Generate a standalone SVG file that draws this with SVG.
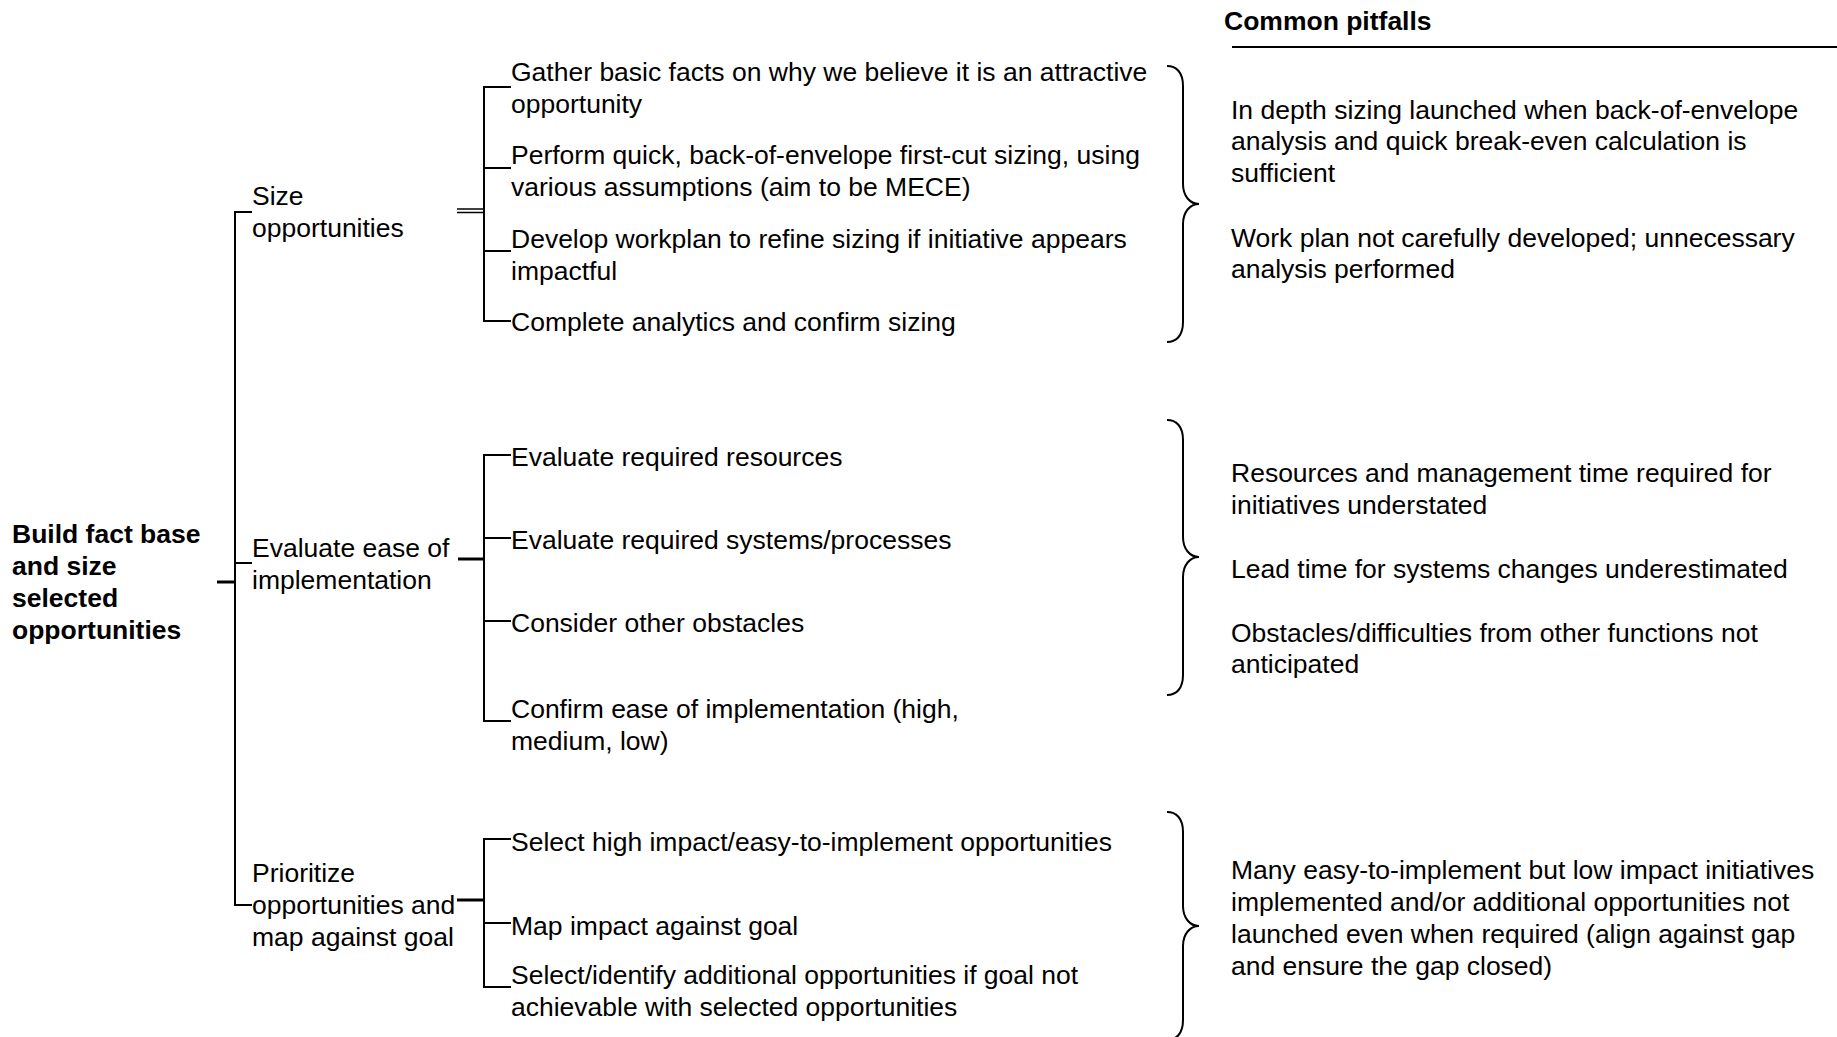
<svg xmlns="http://www.w3.org/2000/svg" width="1837" height="1037" viewBox="0 0 1837 1037">
<style>
text{font-family:"Liberation Sans",Arial,sans-serif;font-size:26.5px;fill:#000}
.b{font-weight:bold}
.ln{stroke:#000;stroke-width:2;fill:none}
.tk{stroke:#000;stroke-width:3;fill:none}
.br{stroke:#000;stroke-width:2;fill:none}
</style>
<rect width="1837" height="1037" fill="#fff"/>
<g id="connectors">
<path class="ln" d="M252 212H235V905H252M235 563H252"/>
<path class="tk" d="M217 582H235"/>
<path class="ln" d="M511 87H484V321H511M484 168H511M484 251H511"/>
<path class="ln" style="stroke-width:1.6" d="M457 209H484M457 212.5H484"/>
<path class="ln" d="M511 455H484V721H511M484 538H511M484 621H511"/>
<path class="tk" d="M458 559H484"/>
<path class="ln" d="M511 839H484V987H511M484 923H511"/>
<path class="tk" d="M457 900H484"/>
</g>
<g id="braces">
<path class="br" d="M1167 66C1176 66 1183 72 1183 86L1183 184C1183 196 1190 204 1199 204C1190 204 1183 212 1183 224L1183 322C1183 336 1176 342 1167 342"/>
<path class="br" d="M1167 420C1176 420 1183 426 1183 440L1183 537C1183 549 1190 557 1199 557C1190 557 1183 565 1183 577L1183 675C1183 689 1176 695 1167 695"/>
<path class="br" d="M1167 812C1176 812 1183 818 1183 832L1183 906C1183 918 1190 926 1199 926C1190 926 1183 934 1183 946L1183 1020C1183 1034 1176 1040 1167 1040"/>
</g>
<g id="root">
<text class="b" x="12" y="543">Build fact base</text>
<text class="b" x="12" y="575">and size</text>
<text class="b" x="12" y="607">selected</text>
<text class="b" x="12" y="639">opportunities</text>
</g>
<g id="size">
<text x="252" y="205">Size</text>
<text x="252" y="237">opportunities</text>
</g>
<g id="ease">
<text x="252" y="557">Evaluate ease of</text>
<text x="252" y="589">implementation</text>
</g>
<g id="prioritize">
<text x="252" y="882">Prioritize</text>
<text x="252" y="914">opportunities and</text>
<text x="252" y="946">map against goal</text>
</g>
<g id="s1"><text x="511" y="80.5">Gather basic facts on why we believe it is an attractive</text><text x="511" y="112.5">opportunity</text></g>
<g id="s2"><text x="511" y="163.5">Perform quick, back-of-envelope first-cut sizing, using</text><text x="511" y="195.5">various assumptions (aim to be MECE)</text></g>
<g id="s3"><text x="511" y="247.5">Develop workplan to refine sizing if initiative appears</text><text x="511" y="279.5">impactful</text></g>
<g id="s4"><text x="511" y="331">Complete analytics and confirm sizing</text></g>
<g id="e1"><text x="511" y="465.5">Evaluate required resources</text></g>
<g id="e2"><text x="511" y="549">Evaluate required systems/processes</text></g>
<g id="e3"><text x="511" y="632">Consider other obstacles</text></g>
<g id="e4"><text x="511" y="717.5">Confirm ease of implementation (high,</text><text x="511" y="749.5">medium, low)</text></g>
<g id="p1"><text x="511" y="850.5">Select high impact/easy-to-implement opportunities</text></g>
<g id="p2"><text x="511" y="934.5">Map impact against goal</text></g>
<g id="p3"><text x="511" y="983.5">Select/identify additional opportunities if goal not</text><text x="511" y="1015.5">achievable with selected opportunities</text></g>
<g id="pitfalls-header">
<text class="b" x="1224" y="30">Common pitfalls</text>
<path class="ln" d="M1232 47H1837"/>
</g>
<g id="pf1">
<text x="1231" y="118.5">In depth sizing launched when back-of-envelope</text>
<text x="1231" y="150.3">analysis and quick break-even calculation is</text>
<text x="1231" y="182.1">sufficient</text>
<text x="1231" y="246.6">Work plan not carefully developed; unnecessary</text>
<text x="1231" y="278.4">analysis performed</text>
</g>
<g id="pf2">
<text x="1231" y="482">Resources and management time required for</text>
<text x="1231" y="513.8">initiatives understated</text>
<text x="1231" y="578.2">Lead time for systems changes underestimated</text>
<text x="1231" y="641.5">Obstacles/difficulties from other functions not</text>
<text x="1231" y="673.3">anticipated</text>
</g>
<g id="pf3">
<text x="1231" y="879.3">Many easy-to-implement but low impact initiatives</text>
<text x="1231" y="911.1">implemented and/or additional opportunities not</text>
<text x="1231" y="942.9">launched even when required (align against gap</text>
<text x="1231" y="974.7">and ensure the gap closed)</text>
</g>
</svg>
